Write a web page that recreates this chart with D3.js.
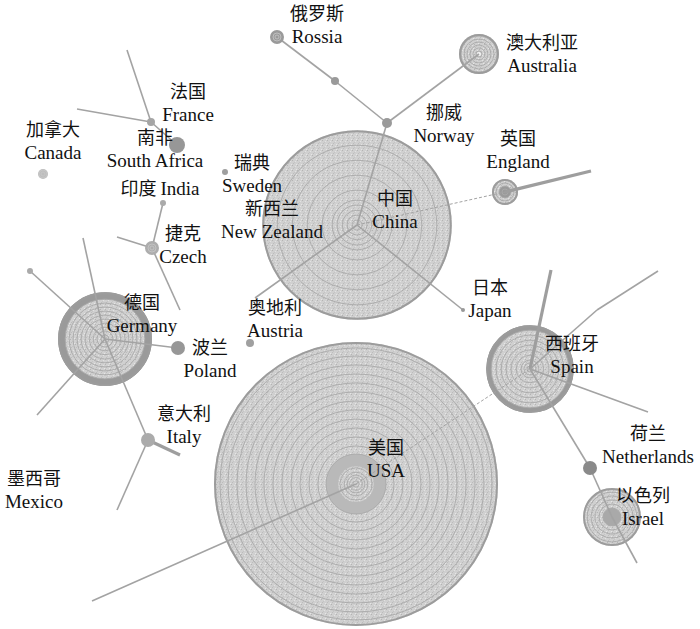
<!DOCTYPE html>
<html>
<head>
<meta charset="utf-8">
<script src="https://cdn.jsdelivr.net/npm/d3@7/dist/d3.min.js"></script>
<style>
body { margin:0; background:#fff; }
.zh { font-family:"Noto Sans CJK SC", sans-serif; font-size:18px; fill:#111; }
.en { font-family:"Liberation Serif", "DejaVu Serif", serif; font-size:19px; fill:#111; }
</style>
</head>
<body>
<div class="graph-section"></div>
<script>
// countries and their paper counts (bubble area)
var countries = ["中国","美国","德国","西班牙","以色列","澳大利亚","英国","加拿大","捷克","波兰",
                 "荷兰","意大利","俄罗斯","南非","挪威","法国","奥地利","印度","瑞典","日本","新西兰","墨西哥"];
var englishNames = ["China","USA","Germany","Spain","Israel","Australia","England","Canada","Czech","Poland",
                    "Netherlands","Italy","Rossia","South Africa","Norway","France","Austria","India","Sweden","Japan","New Zealand","Mexico"];
var papers = [900, 2020, 220, 192, 84, 40, 17, 2.5, 4.9, 4.9,
              4.9, 4.9, 4.9, 6.4, 2.5, 1.6, 1.6, 0.9, 0.9, 0.4, 0, 0];

// cumulative counts drawn as tree rings
var chinaRings = [2.5, 10, 22, 40, 62, 122, 249, 421, 638];
var usaRings = [1, 4, 8, 14, 26, 90, 145, 221, 314, 423, 549, 690, 848, 1022, 1212, 1419, 1641, 1853];
var germanyRings = [1.6, 6.4, 14, 25, 40, 57, 78, 102, 129, 159];
var spainRings = [0.9, 3.6, 8, 19, 36, 57, 83, 115, 151];
var israelRings = [0.9, 3.6, 8.1, 16.9, 28.9, 44, 62];
var australiaRings = [0.9, 3.6, 8.1, 14.4, 22.5, 32.4];
var englandRings = [0.9, 3.6, 8.1];
var smallRings = [0.4, 1.6];

// highlighted year band [from, to]
var bandRanges = {"美国":[32, 90], "德国":[159, 220], "西班牙":[151, 192], "以色列":[0, 8.1], "英国":[0, 3.6]};

// unnamed nodes at the end of links
var endNames = ["p1","p2","s1","s2","s3","s4","s5","s6","s7","s8","s9","s10","s11","s12","s13","s14","s15","s16"];
var endPapers = [1.6, 0.9, 0,0,0,0,0,0,0,0,0,0,0,0,0,0,0,0];

var links = [
  ["俄罗斯","p1"], ["p1","挪威"], ["挪威","澳大利亚"], ["挪威","中国"], ["中国","日本"],
  ["中国","英国","dash"], ["中国","s1"], ["英国","s2","thick"],
  ["法国","s3"], ["法国","s4"], ["法国","南非"], ["印度","捷克"], ["捷克","s5"], ["捷克","s6"],
  ["德国","s7"], ["德国","p2"], ["德国","s8"], ["德国","波兰"], ["德国","意大利"],
  ["意大利","s9"], ["意大利","s10","thick"], ["美国","s11"], ["美国","西班牙","dash"],
  ["西班牙","s12","thick"], ["西班牙","s13"], ["s13","s14"], ["西班牙","s15"],
  ["西班牙","荷兰"], ["荷兰","以色列"], ["以色列","s16"]
];

// layout (px)
var nodeXY = [[357,225],[356,484],[105,339],[530,369],[612,517],[479,54],[505,192],[43,174],[152,248],[178,348],
              [590,468],[148,440],[277,37],[177,145],[387,123],[151,122],[250,343],[163,203],[225,172],[463,310],[0,0],[0,0]];
var endXY = [[335,81],[30,271],[255,298],[591,171],[127,50],[77,109],[117,237],[180,310],[83,238],[37,415],
             [117,510],[180,455],[92,601],[551,270],[597,310],[658,271],[648,412],[637,563]];
var labelXY = [[395,228],[386,477],[142,332],[572,373],[643,525],[542,72],[518,168],[53,159],[183,263],[210,377],
               [648,463],[184,443],[317,43],[155,167],[444,142],[188,121],[275,337],[160,195],[252,192],[490,317],[272,238],[34,508]];

var dotFill = {"俄罗斯":"#9a9a9a","挪威":"#9a9a9a","加拿大":"#bdbdbd","捷克":"#adadad","南非":"#979797","波兰":"#979797",
               "荷兰":"#8a8a8a","意大利":"#ababab","法国":"#a5a5a5","奥地利":"#a0a0a0","印度":"#aaaaaa","瑞典":"#9f9f9f",
               "日本":"#999","p1":"#9a9a9a","p2":"#aaaaaa"};

var screen = {width:700, height:629};

var ringsOf = function(name){
  if (name == "中国") return chinaRings;
  if (name == "美国") return usaRings;
  if (name == "德国") return germanyRings;
  if (name == "西班牙") return spainRings;
  if (name == "以色列") return israelRings;
  if (name == "澳大利亚") return australiaRings;
  if (name == "英国") return englandRings;
  if (name == "加拿大" || name == "捷克" || name == "俄罗斯") return smallRings;
  return [];
};

var drawGraph = function(){
  var xScale = d3.scaleLinear().domain([0, screen.width]).range([0, screen.width]);
  var yScale = d3.scaleLinear().domain([0, screen.height]).range([0, screen.height]);
  var rScale = d3.scaleSqrt().domain([0, 2020]).range([0, 142]);

  var nodes = countries.map(function(c, i){
    return {name:c, en:englishNames[i], value:papers[i], x:nodeXY[i][0], y:nodeXY[i][1],
            lx:labelXY[i][0], ly:labelXY[i][1]};
  });
  endNames.forEach(function(n, i){
    nodes.push({name:n, value:endPapers[i], x:endXY[i][0], y:endXY[i][1]});
  });
  var byName = {};
  nodes.forEach(function(d){ byName[d.name] = d; });

  var svg = d3.select(".graph-section").append("svg")
              .attr("width", screen.width).attr("height", screen.height);

  // stipple texture
  var defs = svg.append("defs");
  var pat = defs.append("pattern").attr("id","stipple").attr("patternUnits","userSpaceOnUse")
                .attr("width",5).attr("height",5);
  pat.append("rect").attr("width",5).attr("height",5).attr("fill","#d0d0d0");
  [[0,0,"#b4b4b4"],[3,1,"#e2e2e2"],[1,3,"#bcbcbc"],[4,4,"#e6e6e6"],[2,2,"#c4c4c4"]].forEach(function(p){
    pat.append("rect").attr("x",p[0]).attr("y",p[1]).attr("width",1).attr("height",1).attr("fill",p[2]);
  });

  var big = nodes.filter(function(d){ return rScale(d.value) > 10; });
  var small = nodes.filter(function(d){ return rScale(d.value) > 0 && rScale(d.value) <= 10; });

  // big bubbles
  var bigG = svg.append("g").selectAll("g").data(big).enter().append("g")
               .attr("transform", function(d){ return "translate(" + xScale(d.x) + "," + yScale(d.y) + ")"; });
  bigG.append("circle").attr("r", function(d){ return rScale(d.value); })
      .attr("fill","url(#stipple)");
  bigG.each(function(d){
    var band = bandRanges[d.name];
    if (band){
      var r0 = rScale(band[0]), r1 = rScale(band[1]);
      d3.select(this).append("circle").attr("r", (r0 + r1) / 2)
        .attr("fill","none").attr("stroke", d.name == "美国" ? "#b9b9b9" : (d.name == "以色列" ? "#a9a9a9" : "#9a9a9a"))
        .attr("stroke-width", r1 - r0);
    }
  });
  bigG.selectAll(".ring").data(function(d){ return ringsOf(d.name); }).enter().append("circle")
      .classed("ring", true)
      .attr("r", function(v){ return rScale(v); })
      .attr("fill","none").attr("stroke","#a9a9a9").attr("stroke-width",0.9);
  bigG.append("circle").attr("r", function(d){ return rScale(d.value) - 1; })
      .attr("fill","none").attr("stroke","#9c9c9c").attr("stroke-width",2);
  bigG.filter(function(d){ return d.name == "澳大利亚"; }).append("circle").attr("r",2).attr("fill","#f4f4f4");

  // links
  svg.append("g").selectAll("line").data(links).enter().append("line")
     .attr("x1", function(l){ return xScale(byName[l[0]].x); })
     .attr("y1", function(l){ return yScale(byName[l[0]].y); })
     .attr("x2", function(l){ return xScale(byName[l[1]].x); })
     .attr("y2", function(l){ return yScale(byName[l[1]].y); })
     .attr("stroke", function(l){ return l[2] == "thick" ? "#9e9e9e" : "#a3a3a3"; })
     .attr("stroke-width", function(l){ return l[2] == "thick" ? 3.2 : (l[2] == "dash" ? 1 : 1.6); })
     .attr("stroke-dasharray", function(l){ return l[2] == "dash" ? "3,2" : null; });

  // small dots
  var smallG = svg.append("g").selectAll("g").data(small).enter().append("g")
                  .attr("transform", function(d){ return "translate(" + xScale(d.x) + "," + yScale(d.y) + ")"; });
  smallG.append("circle").attr("r", function(d){ return rScale(d.value); })
        .attr("fill", function(d){ return dotFill[d.name] || "#a0a0a0"; });
  smallG.selectAll(".ring").data(function(d){ return ringsOf(d.name); }).enter().append("circle")
        .attr("r", function(v){ return rScale(v); })
        .attr("fill","none").attr("stroke","#c8c8c8").attr("stroke-width",0.8);

  // labels
  var labels = svg.append("g").selectAll("g").data(nodes.filter(function(d){ return d.en; }))
                  .enter().append("g");
  labels.filter(function(d){ return d.name != "印度"; }).append("text").classed("zh", true)
        .attr("x", function(d){ return xScale(d.lx); })
        .attr("y", function(d){ return yScale(d.ly - 23); })
        .attr("text-anchor","middle")
        .text(function(d){ return d.name; });
  labels.filter(function(d){ return d.name != "印度"; }).append("text").classed("en", true)
        .attr("x", function(d){ return xScale(d.lx); })
        .attr("y", function(d){ return yScale(d.ly); })
        .attr("text-anchor","middle")
        .text(function(d){ return d.en; });
  var india = labels.filter(function(d){ return d.name == "印度"; }).append("text")
        .attr("x", function(d){ return xScale(d.lx); })
        .attr("y", function(d){ return yScale(d.ly); })
        .attr("text-anchor","middle");
  india.append("tspan").classed("zh", true).text(function(d){ return d.name + " "; });
  india.append("tspan").classed("en", true).text(function(d){ return d.en; });
};

drawGraph();
</script>
</body>
</html>
